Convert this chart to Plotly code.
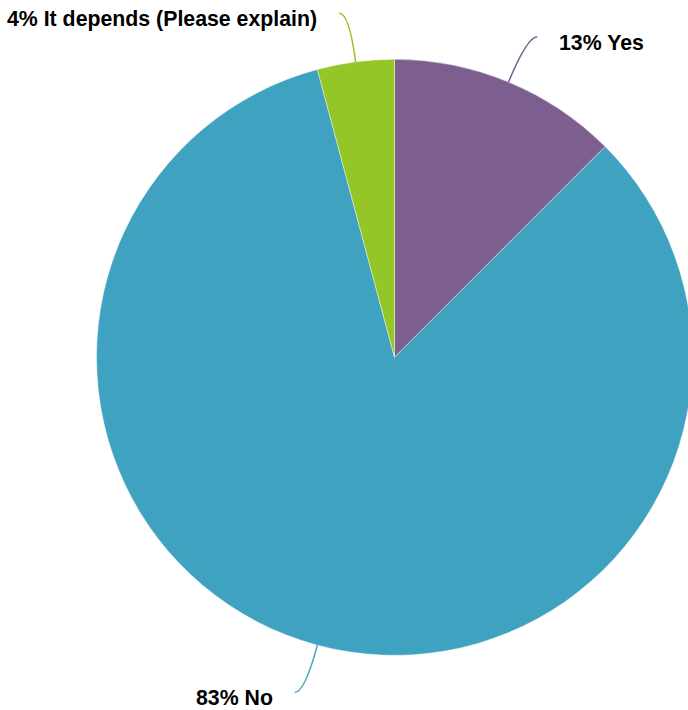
import math
import plotly.graph_objects as go

labels = ["Yes", "No", "It depends (Please explain)"]
values = [3, 20, 1]
colors = ["#7D5F8F", "#40A2C1", "#94C627"]

W, H = 700, 710
CX, CY, R = 394.5, 357.3, 298.0
ELBOW = 49
HOOK = 10

fig = go.Figure()
fig.add_trace(go.Pie(
    labels=labels, values=values, sort=False, direction="clockwise", rotation=0,
    marker=dict(colors=colors, line=dict(color="white", width=0.4)),
    textinfo="none", hoverinfo="label+percent", showlegend=False,
    domain=dict(x=[(CX - R) / W, (CX + R) / W], y=[1 - (CY + R) / H, 1 - (CY - R) / H]),
))

total = sum(values)
cum = 0
shapes, annotations = [], []
for lab, v, col in zip(labels, values, colors):
    frac = v / total
    mid = (cum + frac / 2) * 2 * math.pi
    cum += frac
    ux, uy = math.sin(mid), -math.cos(mid)
    p0 = (CX + R * ux, CY + R * uy)
    e = (CX + (R + ELBOW) * ux, CY + (R + ELBOW) * uy)
    side = 1 if ux >= 0 else -1
    p3 = (e[0] + side * HOOK, e[1])
    shapes.append(dict(type="path", xref="x", yref="y",
                       path=f"M {p0[0]},{p0[1]} Q {e[0]},{e[1]} {p3[0]},{p3[1]}",
                       line=dict(color=col, width=1.5)))
    pct = int(frac * 100 + 0.5)
    annotations.append(dict(xref="x", yref="y", x=p3[0] + side * 20, y=p3[1] + 6,
                            text=f"<b>{pct}% {lab}</b>", showarrow=False,
                            xanchor="left" if side > 0 else "right", yanchor="middle",
                            font=dict(family="Liberation Sans, Arial, sans-serif", size=21.3, color="#000000")))

fig.update_layout(
    width=W, height=H, margin=dict(l=0, r=0, t=0, b=0),
    paper_bgcolor="white", plot_bgcolor="rgba(0,0,0,0)",
    xaxis=dict(range=[0, W], visible=False, fixedrange=True),
    yaxis=dict(range=[H, 0], visible=False, fixedrange=True),
    shapes=shapes, annotations=annotations,
)
fig.write_html("out.html", config={"displayModeBar": False},
               post_script="document.body.style.margin='0';document.body.style.overflow='hidden';")
